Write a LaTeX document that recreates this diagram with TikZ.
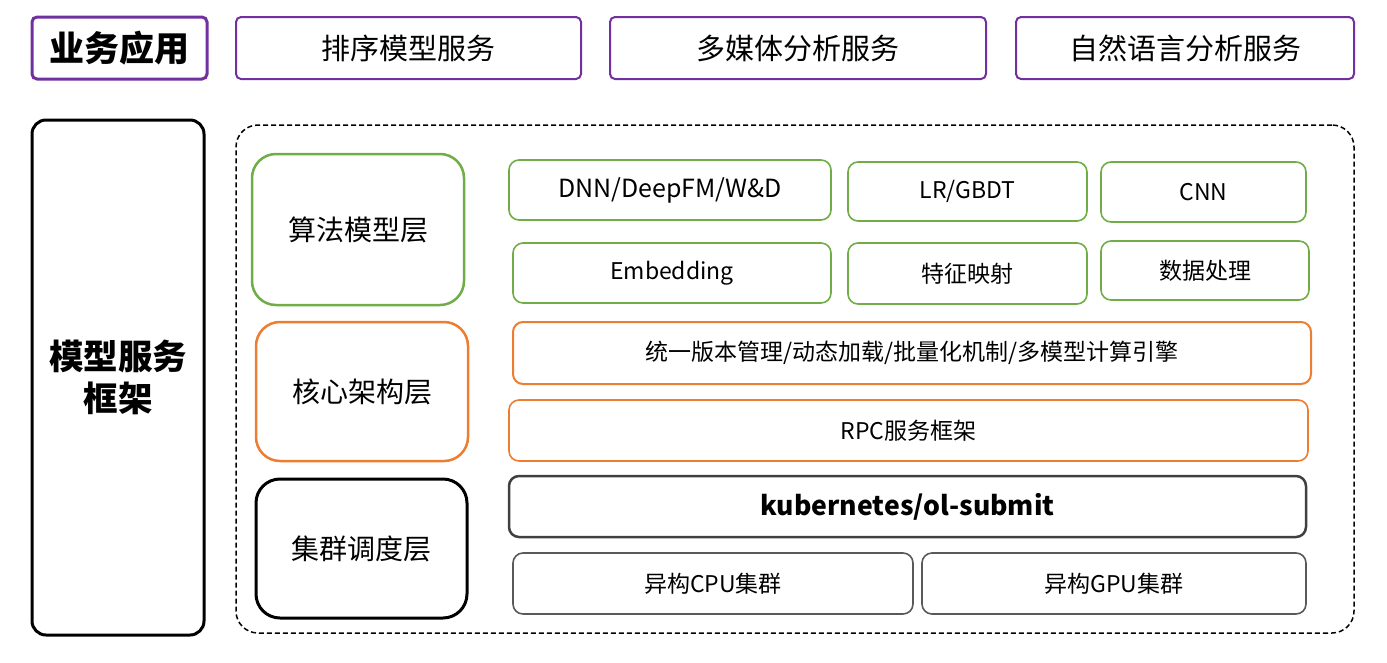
\documentclass[tikz,border=0pt]{standalone}
\usepackage{fontspec}
\setmainfont{Noto Sans CJK SC}
\definecolor{pur}{HTML}{7030A0}
\definecolor{grn}{HTML}{70AD47}
\definecolor{org}{HTML}{ED7D31}
\definecolor{dg}{HTML}{404040}
\definecolor{mg}{HTML}{595959}
\tikzset{
  topbox/.style={draw=pur, line width=2pt, rounded corners=5pt, inner sep=0pt, font=\fontsize{29}{32}\selectfont},
  bizbox/.style={topbox, line width=3pt, font=\fontsize{35}{38}\selectfont\bfseries},
  layerbox/.style={line width=2.5pt, rounded corners=24pt, inner sep=0pt, font=\fontsize{28}{31}\selectfont},
  itembox/.style={line width=1.6pt, rounded corners=10pt, inner sep=0pt, font=\fontsize{23}{26}\selectfont},
}
\begin{document}
\begin{tikzpicture}[x=1pt,y=-1pt]
\useasboundingbox (0,0) rectangle (1387,662);
% top row
\node[bizbox, minimum width=175, minimum height=62] (biz) at (119.5,48) {业务应用};
\node[topbox, minimum width=345, minimum height=62] (s1) at (408.5,48) {排序模型服务};
\node[topbox, minimum width=376, minimum height=62] (s2) at (798,48) {多媒体分析服务};
\node[topbox, minimum width=338, minimum height=62] (s3) at (1185,48) {自然语言分析服务};
% frame
\node[draw=black, line width=3pt, rounded corners=14pt, minimum width=172, minimum height=515, inner sep=0pt, align=center, font=\fontsize{34.5}{42}\selectfont\bfseries] (frame) at (118,377.5) {模型服务\\框架};
\node[draw=black, line width=1.5pt, dash pattern=on 5pt off 3pt, rounded corners=22pt, minimum width=1118, minimum height=508, inner sep=0pt] (cont) at (795,379) {};
% layers
\node[layerbox, draw=grn, minimum width=212, minimum height=151] (l1) at (358,229.5) {算法模型层};
\node[layerbox, draw=org, minimum width=212, minimum height=139] (l2) at (362,391.5) {核心架构层};
\node[layerbox, draw=black, line width=3pt, minimum width=211, minimum height=139] (l3) at (361.5,548.5) {集群调度层};
% items
\node[itembox, draw=grn, minimum width=322, minimum height=60, font=\fontsize{25}{28}\selectfont] (dnn) at (670,190) {DNN/DeepFM/W\&D};
\node[itembox, draw=grn, minimum width=239, minimum height=59] (lr) at (967.5,191.5) {LR/GBDT};
\node[itembox, draw=grn, minimum width=205, minimum height=60] (cnn) at (1203.5,192) {CNN};
\node[itembox, draw=grn, minimum width=318, minimum height=60] (emb) at (672,273) {Embedding};
\node[itembox, draw=grn, minimum width=239, minimum height=61] (feat) at (967.5,273.5) {特征映射};
\node[itembox, draw=grn, minimum width=208, minimum height=59] (data) at (1205,270.5) {数据处理};
\node[itembox, draw=org, line width=2pt, minimum width=798, minimum height=62] (core) at (912,353) {统一版本管理/动态加载/批量化机制/多模型计算引擎};
\node[itembox, draw=org, minimum width=799, minimum height=61] (rpc) at (908.5,430.5) {RPC服务框架};
\node[itembox, draw=dg, line width=2.5pt, minimum width=797, minimum height=61, font=\fontsize{26.6}{29}\selectfont\bfseries] (k8s) at (907.5,506.5) {kubernetes/ol-submit};
\node[itembox, draw=mg, minimum width=400, minimum height=61] (cpu) at (713,583.5) {异构CPU集群};
\node[itembox, draw=mg, minimum width=384, minimum height=61] (gpu) at (1114,583.5) {异构GPU集群};
\end{tikzpicture}
\end{document}
